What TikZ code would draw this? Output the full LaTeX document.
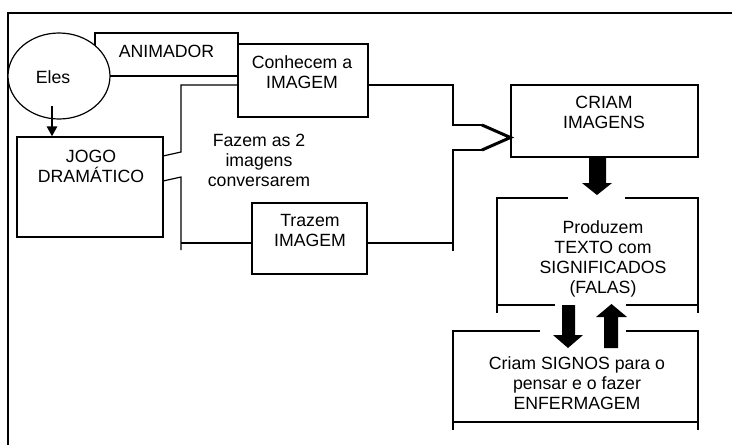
\documentclass[tikz,border=0pt]{standalone}
\usepackage{fontspec}
\setmainfont{Liberation Sans}
\usetikzlibrary{shapes.geometric,arrows.meta,calc}
\begin{document}
\begin{tikzpicture}[x=1pt,y=-1pt,line join=miter,
  ln/.style={line width=1.2pt},
  thk/.style={line width=3pt},
  box/.style={draw,line width=1.2pt,fill=white,inner sep=0pt},
  txt/.style={font=\fontsize{17.7}{20}\selectfont,align=center,inner sep=0pt},
  blk/.style={fill=black,draw=none}]
\useasboundingbox (0,0) rectangle (732,445);
\draw[line width=1.6pt] (8,445) -- (8,13) -- (732,13);

% boxes
\node[box,minimum width=143pt,minimum height=43pt] (anim) at (166.5,54.5) {};
\node[txt] (animT) at (166.5,51.5) {ANIMADOR};
\node[box,ellipse,minimum width=102pt,minimum height=86pt] (eles) at (59,76) {};
\node[txt] (elesT) at (53,77) {Eles};
\node[box,minimum width=130pt,minimum height=73pt] (conh) at (303,80.5) {};
\node[txt] (conhT) at (302,72) {Conhecem a\\IMAGEM};
\node[box,minimum width=146pt,minimum height=100pt] (jogo) at (90,187) {};
\node[txt] (jogoT) at (91,166) {JOGO\\DRAM\'ATICO};
\node[txt] (fazT) at (259,160) {Fazem as 2\\imagens\\conversarem};
\node[box,minimum width=115pt,minimum height=71pt] (traz) at (309.5,238.5) {};
\node[txt] (trazT) at (310,230) {Trazem\\IMAGEM};
\node[box,minimum width=187pt,minimum height=72pt] (cria) at (604.5,121) {};
\node[txt] (criaT) at (604,112) {CRIAM\\IMAGENS};
\node[txt] (prodT) at (603,259) {Produzem\\TEXTO com\\SIGNIFICADOS\\(FALAS)};
\node[txt] (signT) at (577,383) {Criam SIGNOS para o\\pensar e o fazer\\ENFERMAGEM};

% Eles -> JOGO
\coordinate (ea) at (52,106);
\draw[line width=2.6pt,-{Triangle[length=10pt,width=10pt]}] (ea) -- (ea |- jogo.north);

% Eles -- Conhecem
\draw[ln] (eles.east) -- (eles.east -| conh.west);

% left bracket
\coordinate (lt) at (181,85);
\coordinate (j1) at (163,156);
\coordinate (j2) at (163,181);
\draw[ln] (lt -| conh.west) -- (lt) -- (181,152) -- (j1);
\draw[ln] (j2) -- (181,177) -- (181,250);
\coordinate (tl) at (181,243);
\draw[ln] (tl) -- (tl -| traz.west);

% right bracket
\coordinate (rt) at (453,85);
\coordinate (tr) at (453,243);
\coordinate (tipy) at (0,137.5);
\draw[ln] (rt -| conh.east) -- (rt) -- (453,125) -- (482,125);
\draw[ln] (482,150) -- (453,150) -- (453,251);
\draw[ln] (tr -| traz.east) -- (tr);
\draw[thk] (482,125) -- (cria.west |- tipy) -- (482,150);

% block arrow CRIAM -> Produzem
\fill[blk] ($(cria.south)+(-15.5,0)$) -- ++(17,0) -- (606,183) -- (612,183) -- (597,195) -- (582,183) -- (589,183) -- cycle;

% Produzem box (open)
\draw[ln] (568,198) -- (497,198) -- (497,313);
\draw[ln] (497,305) -- (555,305);
\draw[ln] (626,305) -- (698,305);
\draw[ln] (698,313) -- (698,198) -- (625,198);

% down / up arrows
\fill[blk] (562,305) -- (575,305) -- (575,335) -- (583,335) -- (568,348) -- (553,335) -- (562,335) -- cycle;
\fill[blk] (604,348) -- (618,348) -- (618,317) -- (627,317) -- (611.5,304) -- (596,317) -- (604,317) -- cycle;

% Criam SIGNOS box (open)
\draw[ln] (540,331) -- (453,331) -- (453,430);
\draw[ln] (453,422) -- (698,422);
\draw[ln] (698,430) -- (698,331) -- (626,331);
\end{tikzpicture}
\end{document}
